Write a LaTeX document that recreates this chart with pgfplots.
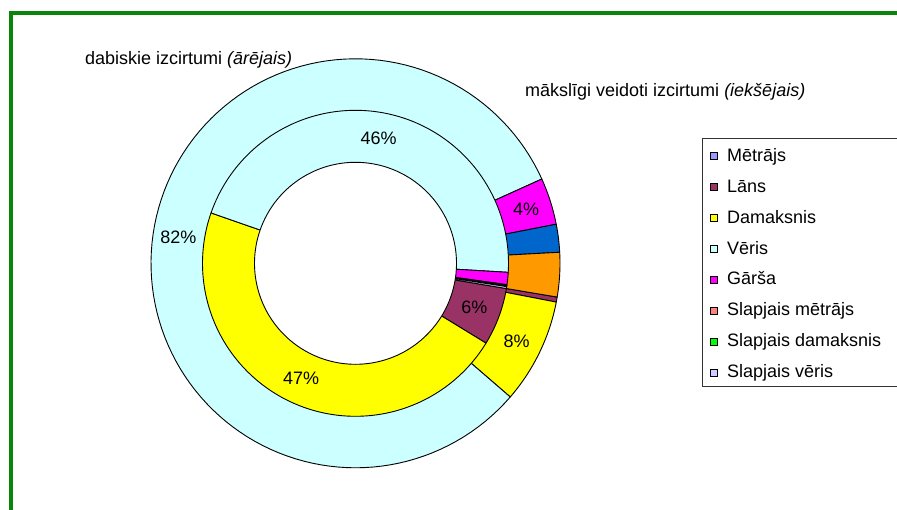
\documentclass[border=0pt]{standalone}
\usepackage{fontspec}
\setmainfont{Liberation Sans}
\usepackage{pgfplots}
\usepackage{pgfplotstable}
\pgfplotsset{compat=1.18}

\definecolor{cMetrajs}{HTML}{9999FF}
\definecolor{cLans}{HTML}{993366}
\definecolor{cDamaksnis}{HTML}{FFFF00}
\definecolor{cVeris}{HTML}{CCFFFF}
\definecolor{cGarsa}{HTML}{FF00FF}
\definecolor{cSlMetrajs}{HTML}{FF8080}
\definecolor{cSlDamaksnis}{HTML}{00FF00}
\definecolor{cSlVeris}{HTML}{CCCCFF}
\definecolor{cNine}{HTML}{0066CC}
\definecolor{cTen}{HTML}{FF9900}
\definecolor{frameGreen}{HTML}{0A850A}

% outer ring: dabiskie izcirtumi (percent)
\pgfplotstableread{
id val col
Metrajs 0 cMetrajs
Lans 0.4 cLans
Damaksnis 8.3 cDamaksnis
Veris 81.9 cVeris
Garsa 3.7 cGarsa
SlMetrajs 0 cSlMetrajs
SlDamaksnis 0 cSlDamaksnis
SlVeris 0 cSlVeris
Nine 2.2 cNine
Ten 3.5 cTen
}\outerdata

% inner ring: maksligi veidoti izcirtumi (percent)
\pgfplotstableread{
id val col
Metrajs 0 cMetrajs
Lans 6.1 cLans
Damaksnis 46.6 cDamaksnis
Veris 45.6 cVeris
Garsa 1.3 cGarsa
SlMetrajs 0.1 cSlMetrajs
SlDamaksnis 0.1 cSlDamaksnis
SlVeris 0.2 cSlVeris
Nine 0 cNine
Ten 0 cTen
}\innerdata

\def\startangle{-9.5}

\newcommand{\ring}[2]{%
  \pgfplotstablegetrowsof{#1}%
  \pgfmathtruncatemacro{\nrows}{\pgfplotsretval-1}%
  \def\cum{0}%
  \pgfplotsforeachungrouped \ii in {0,...,\nrows}{%
    \pgfplotstablegetelem{\ii}{val}\of{#1}\let\myval\pgfplotsretval
    \pgfplotstablegetelem{\ii}{col}\of{#1}\let\mycol\pgfplotsretval
    \pgfmathsetmacro{\aend}{\startangle-\cum*3.6}%
    \pgfmathsetmacro{\cum}{\cum+\myval}%
    \pgfmathsetmacro{\abeg}{\startangle-\cum*3.6}%
    \ifdim\myval pt>0pt
      \edef\doit{\noexpand\addplot[wedge,fill=\mycol,domain=\abeg:\aend] ({#2*cos(x)},{#2*sin(x)}) -- (axis cs:0,0) -- cycle;}%
      \doit
    \fi
  }%
}

\newcommand{\lblfont}{\fontsize{18}{21.6}\selectfont}
\newcommand{\lent}[1]{\makebox[180pt][l]{\hspace*{7pt}\rule[-8.55pt]{0pt}{24pt}#1}}

\begin{document}
\begin{tikzpicture}
\fill[white] (0,0) rectangle (897pt,509pt);
\useasboundingbox (0,0) rectangle (897pt,509pt);
\draw[frameGreen, line width=4pt] (11pt,-10pt) -- (11pt,496pt) -- (910pt,496pt);

\begin{axis}[
  x=1pt, y=1pt,
  xmin=-210, xmax=210, ymin=-210, ymax=210,
  enlargelimits=false,
  at={(355.5pt,245.7pt)}, anchor=origin,
  hide axis, clip=false,
  wedge/.style={draw=black, line width=0.9pt, line join=round, samples=121, forget plot},
  legend style={at={(1.325,0.7976)}, anchor=north west, draw=black!80, line width=0.8pt,
    fill=white, inner xsep=8pt, inner ysep=5pt, row sep=10pt,
    font=\lblfont, cells={anchor=west}},
  legend cell align=left,
  legend image code/.code={\draw[#1, line width=0.6pt] (0pt,-5.05pt) rectangle (7pt,1.95pt);},
]
\ring{\outerdata}{204.5}
\ring{\innerdata}{153}
\addplot[draw=black, fill=white, line width=0.9pt, domain=0:360, samples=181, forget plot]
  ({101*cos(x)},{101*sin(x)}) -- cycle;

\node[font=\lblfont, inner sep=0pt] at (axis cs:{179*cos(171.76)},{179*sin(171.76)}) {82\%};
\node[font=\lblfont, inner sep=0pt] at (axis cs:{179*cos(17.68)},{179*sin(17.68)}) {4\%};
\node[font=\lblfont, inner sep=0pt] at (axis cs:{179*cos(-25.88)},{179*sin(-25.88)}) {8\%};
\node[font=\lblfont, inner sep=0pt] at (axis cs:{127*cos(79.5)},{127*sin(79.5)}) {46\%};
\node[font=\lblfont, inner sep=0pt] at (axis cs:{127*cos(-20.48)},{127*sin(-20.48)}) {6\%};
\node[font=\lblfont, inner sep=0pt] at (axis cs:{127*cos(-115.34)},{127*sin(-115.34)}) {47\%};

\addlegendimage{fill=cMetrajs, draw=black}\addlegendentry{\lent{Mētrājs}}
\addlegendimage{fill=cLans, draw=black}\addlegendentry{\lent{Lāns}}
\addlegendimage{fill=cDamaksnis, draw=black}\addlegendentry{\lent{Damaksnis}}
\addlegendimage{fill=cVeris, draw=black}\addlegendentry{\lent{Vēris}}
\addlegendimage{fill=cGarsa, draw=black}\addlegendentry{\lent{Gārša}}
\addlegendimage{fill=cSlMetrajs, draw=black}\addlegendentry{\lent{Slapjais mētrājs}}
\addlegendimage{fill=cSlDamaksnis, draw=black}\addlegendentry{\lent{Slapjais damaksnis}}
\addlegendimage{fill=cSlVeris, draw=black}\addlegendentry{\lent{Slapjais vēris}}
\end{axis}

\node[anchor=base west, inner sep=0pt, font=\lblfont] at (85pt,444.5pt) {dabiskie izcirtumi \textit{(ārējais)}};
\node[anchor=base west, inner sep=0pt, font=\lblfont] at (525pt,412pt) {mākslīgi veidoti izcirtumi \textit{(iekšējais)}};
\end{tikzpicture}
\end{document}
